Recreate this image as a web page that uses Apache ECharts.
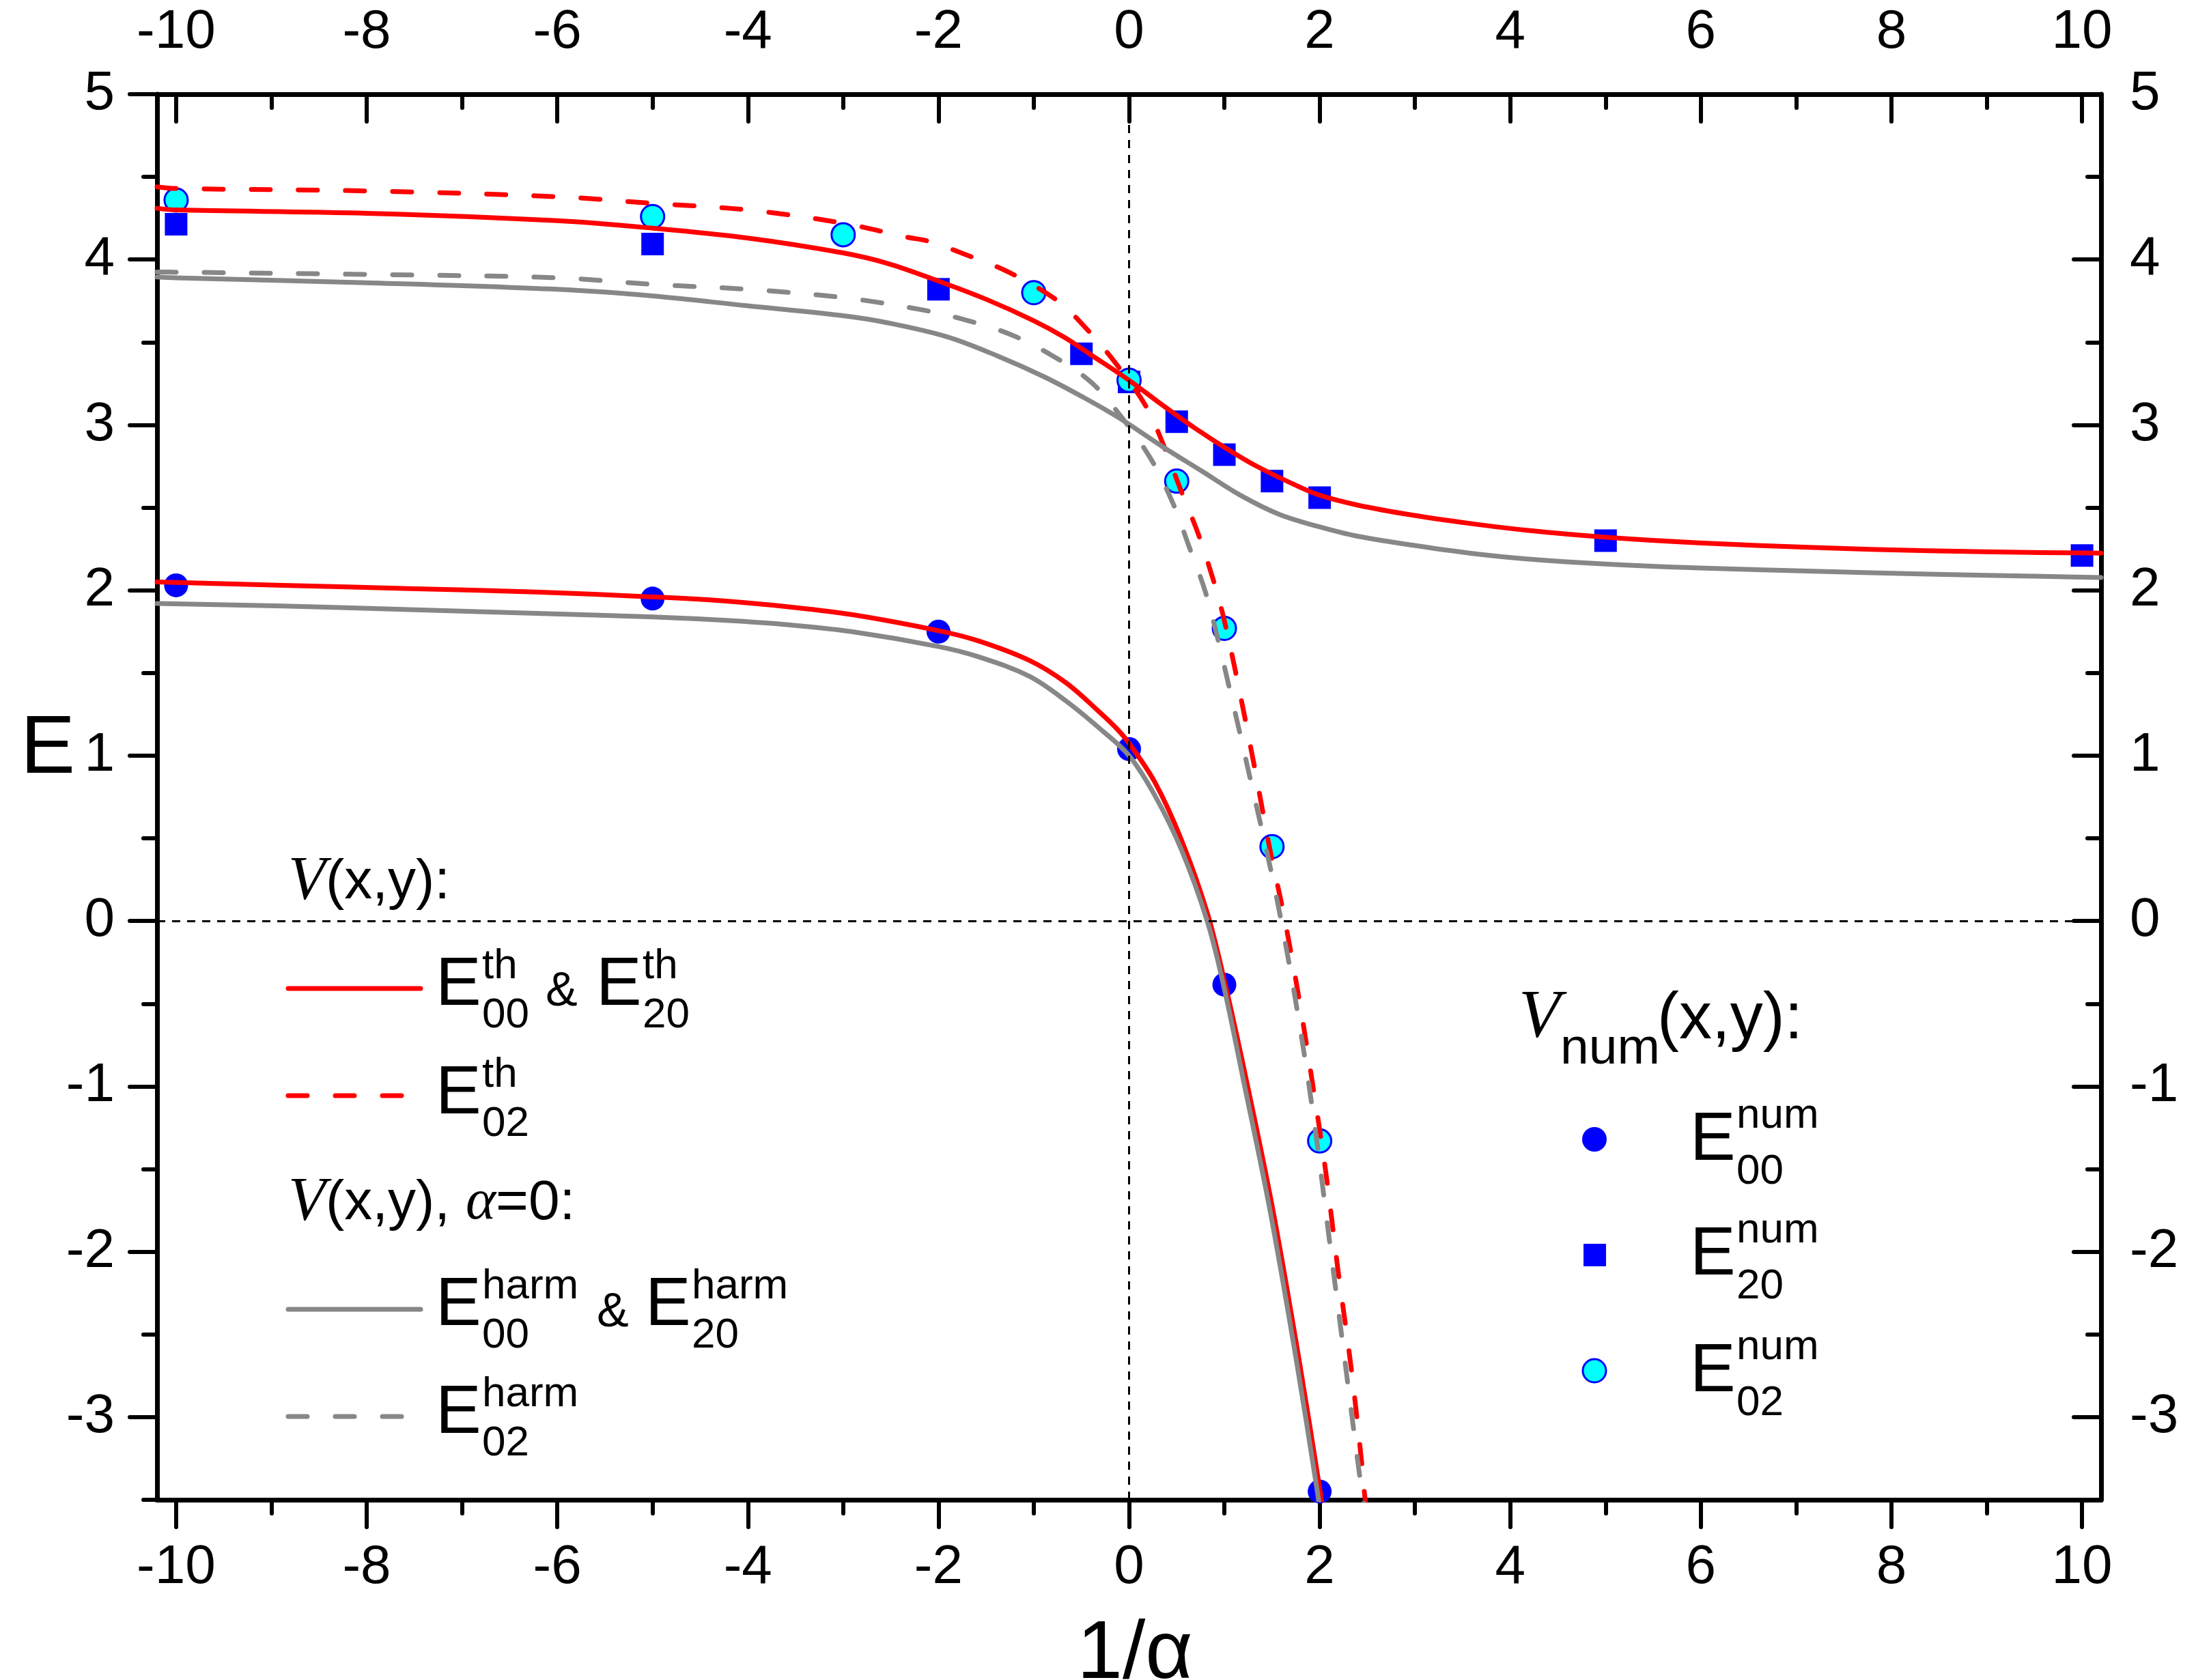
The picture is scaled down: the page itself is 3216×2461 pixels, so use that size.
<!DOCTYPE html>
<html><head><meta charset="utf-8">
<script src="https://cdn.jsdelivr.net/npm/echarts@6/dist/echarts.min.js"></script>
<style>html,body{margin:0;padding:0;background:#fff}#c{width:3216px;height:2461px}</style>
</head><body><div id="c"></div>
<script>
// ---------------- data ----------------
// theory (anharmonic) curves
const th00X = [-10.2, -8.87, -7.55, -6.22, -5.0, -4.23, -3.57, -2.91, -2.0, -1.58, -1.05, -0.66, -0.33, -0.13, 0.0, 0.27, 0.55, 0.82, 1.0, 1.23, 1.51, 1.78, 2.0, 2.03];
const th00Y = [2.05, 2.03, 2.01, 1.99, 1.96, 1.935, 1.90, 1.853, 1.756, 1.694, 1.577, 1.44, 1.274, 1.164, 1.075, 0.84, 0.49, 0.05, -0.36, -0.96, -1.75, -2.64, -3.43, -3.55];
const th20X = [-10.2, -10, -8, -6, -5, -4, -3, -2.53, -2.0, -1.5, -1.0, -0.68, -0.39, 0.0, 0.35, 0.68, 1.0, 1.34, 1.75, 2.0, 2.4, 2.97, 3.57, 4.17, 5.0, 5.98, 7.18, 8.38, 9.58, 10.2];
const th20Y = [4.31, 4.30, 4.28, 4.235, 4.19, 4.13, 4.04, 3.976, 3.87, 3.76, 3.63, 3.53, 3.42, 3.27, 3.12, 2.985, 2.865, 2.75, 2.635, 2.575, 2.515, 2.455, 2.405, 2.363, 2.321, 2.287, 2.259, 2.239, 2.228, 2.225];
const th02X = [-10.2, -10, -8, -6, -5, -4, -3, -2.32, -2.12, -1.71, -1.26, -0.76, -0.47, -0.15, 0.18, 0.36, 0.56, 0.72, 0.88, 0.99, 1.12, 1.30, 1.48, 1.62, 1.78, 1.92, 2.06, 2.19, 2.33, 2.44, 2.47, 2.49];
const th02Y = [4.44, 4.43, 4.415, 4.38, 4.34, 4.30, 4.22, 4.134, 4.113, 4.029, 3.923, 3.755, 3.596, 3.38, 3.11, 2.88, 2.58, 2.35, 2.07, 1.84, 1.50, 0.98, 0.428, 0.049, -0.457, -0.963, -1.50, -2.10, -2.70, -3.27, -3.46, -3.55];
// harmonic (alpha = 0) curves
const h00X = [-10.2, -8.87, -7.55, -6.22, -5.0, -4.23, -3.57, -2.91, -2.0, -1.58, -1.05, -0.66, -0.3, 0.0, 0.27, 0.55, 0.82, 0.99, 1.2, 1.48, 1.75, 1.97, 2.0];
const h00Y = [1.92, 1.905, 1.883, 1.86, 1.839, 1.818, 1.791, 1.75, 1.66, 1.598, 1.481, 1.33, 1.16, 1.00, 0.76, 0.43, 0.0, -0.385, -0.963, -1.753, -2.638, -3.43, -3.55];
const h20X = [-10.2, -10, -8, -6, -5, -4, -3, -2.53, -1.91, -1.38, -0.89, -0.47, -0.15, 0.02, 0.35, 0.76, 1.17, 1.58, 1.99, 2.37, 2.97, 3.57, 4.17, 5.0, 5.98, 7.18, 8.38, 9.58, 10.2];
const h20Y = [3.895, 3.89, 3.86, 3.82, 3.78, 3.72, 3.66, 3.617, 3.533, 3.417, 3.291, 3.164, 3.059, 2.996, 2.869, 2.722, 2.574, 2.458, 2.385, 2.33, 2.273, 2.225, 2.19, 2.159, 2.135, 2.115, 2.098, 2.084, 2.077];
const h02X = [-10.2, -10, -8, -6, -5, -4, -3, -2.19, -1.70, -1.23, -0.80, -0.40, -0.08, 0.23, 0.46, 0.63, 0.80, 0.93, 1.04, 1.23, 1.58, 1.88, 2.14, 2.43, 2.47];
const h02Y = [3.925, 3.924, 3.91, 3.89, 3.85, 3.82, 3.77, 3.698, 3.632, 3.544, 3.417, 3.259, 3.048, 2.793, 2.527, 2.264, 1.992, 1.709, 1.44, 0.966, 0.049, -0.963, -2.10, -3.40, -3.55];
// numerical points
const num00X = [-10, -5, -2, 0, 1, 2];
const num00Y = [2.03, 1.95, 1.75, 1.04, -0.385, -3.45];
const num20X = [-10, -5, -2, -0.5, 0, 0.5, 1, 1.5, 2, 5, 10];
const num20Y = [4.214, 4.094, 3.82, 3.43, 3.26, 3.02, 2.82, 2.66, 2.56, 2.30, 2.21];
const num02X = [-10, -5, -3, -1, 0, 0.5, 1, 1.5, 2];
const num02Y = [4.36, 4.26, 4.15, 3.80, 3.27, 2.66, 1.77, 0.45, -1.33];
// axes
const xMajor = [-10, -8, -6, -4, -2, 0, 2, 4, 6, 8, 10];
const xMinor = [-9, -7, -5, -3, -1, 1, 3, 5, 7, 9];
const yMajor = [-3, -2, -1, 0, 1, 2, 3, 4, 5];
const yMinor = [-3.5, -2.5, -1.5, -0.5, 0.5, 1.5, 2.5, 3.5, 4.5];
const X_MIN = -10.2, X_MAX = 10.2, Y_MIN = -3.5, Y_MAX = 5;

// ---------------- rendering ----------------
const FONT = '"Liberation Sans", Arial, sans-serif';
const SERIF = '"Liberation Serif", "DejaVu Serif", serif';
const RED = '#ff0000', GRAY = '#878787', BLUE = '#0000ff', CYAN = '#00ffff';
const DASH = [28, 41];
const zip = (xs, ys) => xs.map((x, i) => [x, ys[i]]);

function axis(dim, pos, ticks, len, inside, labels, margin) {
  const min = dim === 'x' ? X_MIN : Y_MIN, max = dim === 'x' ? X_MAX : Y_MAX;
  const o = {
    type: 'value', position: pos, min: min, max: max,
    axisLine: { show: labels, onZero: false, lineStyle: { color: '#000', width: 7 } },
    axisTick: { show: true, inside: inside, length: len, customValues: ticks,
      lineStyle: { color: '#000', width: 6, cap: 'round' } },
    axisLabel: { show: labels, margin: margin || 8, fontSize: 80, fontFamily: FONT, color: '#000' },
    splitLine: { show: false }, minorTick: { show: false }
  };
  if (labels) o.axisLabel.customValues = ticks;
  return o;
}

function line(name, xs, ys, color, dashed) {
  return {
    name: name, type: 'line', xAxisIndex: 0, yAxisIndex: 0, data: zip(xs, ys),
    showSymbol: false, symbol: 'none', smooth: 0.35, clip: true,
    lineStyle: { color: color, width: 7, type: dashed ? DASH : 'solid', cap: 'round', join: 'round' },
    emphasis: { disabled: true }
  };
}
function pts(name, xs, ys, symbol, size, fill, border) {
  return {
    name: name, type: 'scatter', data: zip(xs, ys), symbol: symbol, symbolSize: size,
    itemStyle: { color: fill, borderColor: border || fill, borderWidth: border ? 3 : 0, opacity: 1 },
    emphasis: { disabled: true }
  };
}

function txt(x, y, text, size, extra) {
  return { type: 'text', x: x, y: y, z: 100,
    style: Object.assign({ text: text, fontSize: size, fontFamily: FONT, fill: '#000',
      align: 'left', verticalAlign: 'middle' }, extra || {}) };
}
function eBlock(xInk, yc, sup, sub, supDy, subDy) {
  return [
    txt(xInk - 8, yc + 3, 'E', 100),
    txt(xInk + 60, yc + supDy, sup, 62),
    txt(xInk + 60, yc + subDy, sub, 62)
  ];
}
function hdr(x, y, pre, post) {
  return { type: 'text', x: x, y: y, z: 100,
    style: { text: '{v|V}{t|' + pre + '}' + (post ? '{a|α}{t|' + post + '}' : ''),
      align: 'left', verticalAlign: 'middle', fill: '#000',
      rich: {
        v: { fontFamily: SERIF, fontStyle: 'italic', fontSize: 90, lineHeight: 100, fill: '#000' },
        t: { fontFamily: FONT, fontSize: 82, lineHeight: 100, fill: '#000' },
        a: { fontFamily: SERIF, fontStyle: 'italic', fontSize: 84, lineHeight: 100, fill: '#000' }
      } } };
}
function legLine(y, x2, color, dashed) {
  return { type: 'line', z: 100, shape: { x1: 422, y1: y, x2: x2, y2: y },
    style: { stroke: color, lineWidth: 7, lineCap: 'round', lineDash: dashed ? DASH : null } };
}

const graphics = [].concat(
  [txt(70, 1099, 'E', 120, { align: 'center' }),
   txt(1662, 2425, '1/α', 120, { align: 'center' }),
   hdr(422, 1293, '(x,y):'),
   legLine(1448, 616, RED, false)],
  eBlock(646, 1441, 'th', '00', -25, 47),
  [txt(799, 1454, '&', 70)],
  eBlock(881, 1441, 'th', '20', -25, 47),
  [legLine(1605, 592, RED, true)],
  eBlock(646, 1600, 'th', '02', -25, 47),
  [hdr(422, 1763, '(x,y), ', '=0:'),
   legLine(1918, 616, GRAY, false)],
  eBlock(646, 1910, 'harm', '00', -25, 47),
  [txt(874, 1924, '&', 70)],
  eBlock(953, 1910, 'harm', '20', -25, 47),
  [legLine(2075, 592, GRAY, true)],
  eBlock(646, 2068, 'harm', '02', -25, 47),
  // right block
  [{ type: 'text', x: 2224, y: 1492, z: 100, style: { text: 'V', fontFamily: SERIF, fontStyle: 'italic',
      fontSize: 100, fill: '#000', align: 'left', verticalAlign: 'middle' } },
   txt(2285, 1537, 'num', 75),
   txt(2427, 1495, '(x,y):', 96),
   { type: 'circle', z: 100, shape: { cx: 2335, cy: 1669, r: 18 }, style: { fill: BLUE } },
   { type: 'rect', z: 100, shape: { x: 2319, y: 1822, width: 33, height: 33 }, style: { fill: BLUE } },
   { type: 'circle', z: 100, shape: { cx: 2335, cy: 2008, r: 17 }, style: { fill: CYAN, stroke: BLUE, lineWidth: 3 } }],
  eBlock(2483, 1668, 'num', '00', -33, 49),
  eBlock(2483, 1836, 'num', '20', -33, 49),
  eBlock(2483, 2007, 'num', '02', -33, 49)
);

const option = {
  backgroundColor: '#fff',
  animation: false,
  grid: { left: 230, right: 139, top: 138, bottom: 264, containLabel: false },
  xAxis: [
    axis('x', 'bottom', xMajor, 40, false, true, 60),
    axis('x', 'bottom', xMinor, 20, false, false),
    axis('x', 'top', xMajor, 40, true, true, 50),
    axis('x', 'top', xMinor, 20, true, false)
  ],
  yAxis: [
    axis('y', 'left', yMajor, 40, false, true, 62),
    axis('y', 'left', yMinor, 20, false, false),
    axis('y', 'right', yMajor, 40, true, true, 42),
    axis('y', 'right', yMinor, 20, true, false)
  ],
  series: [
    line('E00th', th00X, th00Y, RED, false),
    line('E20th', th20X, th20Y, RED, false),
    line('E02th', th02X, th02Y, RED, true),
    line('E00harm', h00X, h00Y, GRAY, false),
    line('E20harm', h20X, h20Y, GRAY, false),
    line('E02harm', h02X, h02Y, GRAY, true),
    pts('E20num', num20X, num20Y, 'rect', 33, BLUE),
    pts('E00num', num00X, num00Y, 'circle', 35, BLUE),
    pts('E02num', num02X, num02Y, 'circle', 34, CYAN, BLUE),
    { name: 'zero', type: 'line', data: [], z: 10,
      markLine: { silent: true, symbol: 'none', label: { show: false },
        lineStyle: { color: '#000', width: 3, type: [12, 10] },
        data: [{ xAxis: 0 }, { yAxis: 0 }] } }
  ],
  graphic: graphics
};

const chart = echarts.init(document.getElementById('c'), null, { renderer: 'canvas' });
chart.setOption(option);
</script></body></html>
